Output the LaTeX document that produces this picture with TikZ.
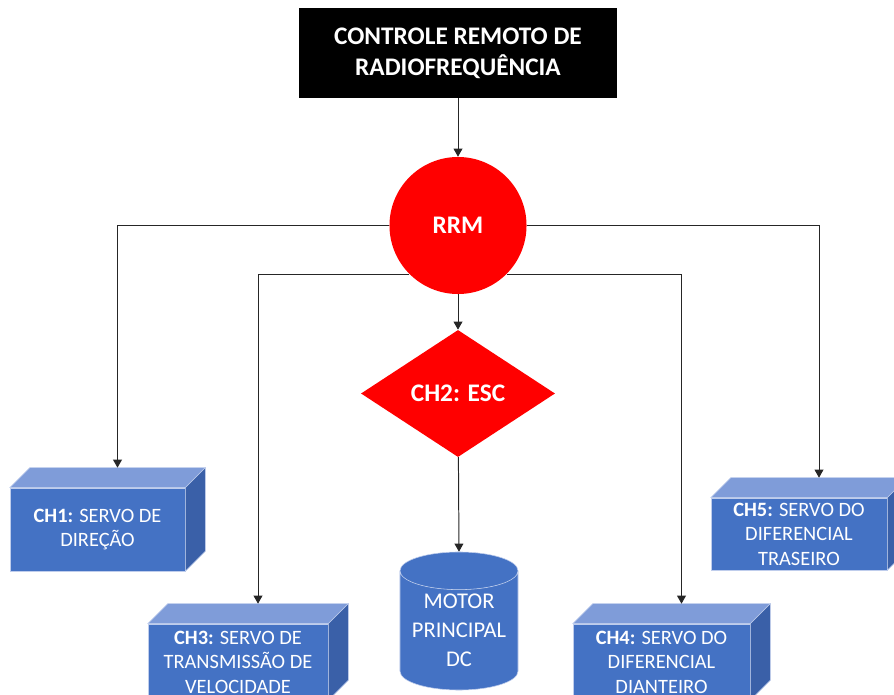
\documentclass[tikz,border=0pt]{standalone}
\usepackage{fontspec}
\setmainfont{Carlito}
\usetikzlibrary{arrows.meta,shapes.geometric,calc}
\definecolor{azulFrente}{HTML}{4472C4}
\definecolor{azulTopo}{HTML}{7F9CD9}
\definecolor{azulLado}{HTML}{3A60A8}
\definecolor{vermelho}{HTML}{FF0000}
\newcommand{\facescubo}[1]{%
  \filldraw[facetopo] (#1.north west) -- ++(20,-20) -- ($(#1.north east)+(20,-20)$) -- (#1.north east) -- cycle;
  \filldraw[facelado] (#1.north east) -- ++(20,-20) -- ($(#1.south east)+(20,-20)$) -- (#1.south east) -- cycle;
}

\begin{document}
\begin{tikzpicture}[x=0.025cm, y=-0.025cm,
    caixa/.style={fill=black, text=white, align=center, font=\bfseries\fontsize{18}{22}\selectfont, minimum width=7.95cm, minimum height=2.25cm},
    circulo/.style={circle, fill=vermelho, text=white, font=\bfseries\fontsize{18}{22}\selectfont, minimum size=3.425cm, inner sep=0pt},
    losango/.style={diamond, fill=vermelho, text=white, font=\bfseries\fontsize{18}{22}\selectfont, minimum width=4.85cm, minimum height=3.175cm, inner sep=0pt},
    cubo/.style={fill=azulFrente, draw=azulTopo!50!white, line width=0.4pt, text=white, align=center, font=\fontsize{14.5}{17.5}\selectfont, inner sep=0pt},
    facetopo/.style={fill=azulTopo, draw=azulTopo!50!white, line width=0.4pt},
    facelado/.style={fill=azulLado, draw=azulTopo!50!white, line width=0.4pt},
    cilindro/.style={cylinder, shape border rotate=90, aspect=0.4, cylinder uses custom fill, cylinder body fill=azulFrente, cylinder end fill=azulFrente, draw=azulTopo!50!white, line width=0.4pt, text=white, align=center, font=\fontsize{16}{20.5}\selectfont, minimum width=2.95cm, minimum height=3.45cm, inner sep=0pt},
    seta/.style={-{Triangle[length=2mm,width=2.2mm]}, line width=0.7pt, draw=black!85}
]
\useasboundingbox (0,0) rectangle (894,695);
\clip (0,0) rectangle (894,695);

\node[caixa] (controle) at (458,53) {CONTROLE REMOTO DE\\RADIOFREQUÊNCIA};
\node[circulo] (rrm) at (458,225.5) {RRM};
\node[losango] (esc) at (458,393.5) {CH2: ESC};
\node[cilindro, anchor=shape center] (motor) at (459,621) {MOTOR\\PRINCIPAL\\DC};

\node[cubo, minimum width=4.375cm, minimum height=2.075cm] (ch1) at (97.5,529.5) {{\bfseries CH1:} SERVO DE\\DIREÇÃO};
\node[cubo, minimum width=4.5cm, minimum height=1.9cm] (ch3) at (238,662) {{\bfseries CH3:} SERVO DE\\TRANSMISSÃO DE\\VELOCIDADE};
\node[cubo, minimum width=4.425cm, minimum height=1.9cm] (ch4) at (661.5,662) {{\bfseries CH4:} SERVO DO\\DIFERENCIAL\\DIANTEIRO};
\node[cubo, minimum width=4.4cm, minimum height=1.8cm] (ch5) at (799,534) {{\bfseries CH5:} SERVO DO\\DIFERENCIAL\\TRASEIRO};
\facescubo{ch1}
\facescubo{ch3}
\facescubo{ch4}
\facescubo{ch5}

\draw[seta] (controle) -- (rrm);
\draw[seta] (rrm) -- (esc);
\draw[seta] (esc) -- (motor.north);
\draw[seta] (rrm.west) -| ($(ch1.north)+(20,-20)$);
\draw[seta] (rrm.east) -| ($(ch5.north)+(20,-20)$);
\draw[seta] (rrm.-135) -| ($(ch3.north)+(20,-20)$);
\draw[seta] (rrm.-45) -| ($(ch4.north)+(20,-20)$);
\end{tikzpicture}
\end{document}
